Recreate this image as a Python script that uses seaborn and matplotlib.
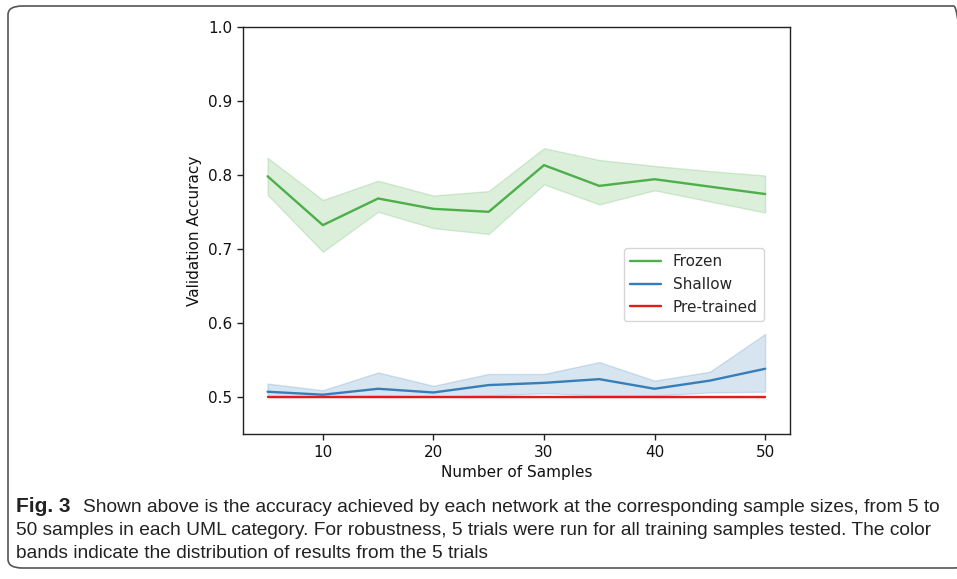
import numpy as np
import pandas as pd
import matplotlib
matplotlib.use("Agg")
import matplotlib.pyplot as plt
from matplotlib.patches import FancyBboxPatch
import seaborn as sns

# sample sizes
samples = [5, 10, 15, 20, 25, 30, 35, 40, 45, 50]

# mean accuracy, with band lower/upper edges
frozen_mean = [0.798, 0.732, 0.768, 0.754, 0.750, 0.813, 0.785, 0.794, 0.784, 0.774]
frozen_lo = [0.773, 0.696, 0.750, 0.728, 0.720, 0.787, 0.760, 0.779, 0.764, 0.749]
frozen_hi = [0.823, 0.766, 0.792, 0.772, 0.778, 0.836, 0.820, 0.812, 0.805, 0.799]

shallow_mean = [0.507, 0.503, 0.511, 0.506, 0.516, 0.519, 0.524, 0.511, 0.522, 0.538]
shallow_lo = [0.500, 0.500, 0.502, 0.500, 0.502, 0.505, 0.502, 0.502, 0.506, 0.507]
shallow_hi = [0.518, 0.509, 0.533, 0.515, 0.531, 0.531, 0.547, 0.522, 0.534, 0.585]

pretrained_mean = [0.500] * 10
pretrained_lo = [0.500] * 10
pretrained_hi = [0.500] * 10

caption_bold = "Fig. 3"
caption_lines = [
    "Shown above is the accuracy achieved by each network at the corresponding sample sizes, from 5 to",
    "50 samples in each UML category. For robustness, 5 trials were run for all training samples tested. The color",
    "bands indicate the distribution of results from the 5 trials",
]

sns.set_theme(style="ticks")
plt.rcParams['font.family'] = ['DejaVu Sans']

colors = {"Frozen": "#4daf4a", "Shallow": "#377eb8", "Pre-trained": "#e41a1c"}

rows = []
for name, m, lo, hi in [("Frozen", frozen_mean, frozen_lo, frozen_hi),
                        ("Shallow", shallow_mean, shallow_lo, shallow_hi),
                        ("Pre-trained", pretrained_mean, pretrained_lo, pretrained_hi)]:
    for s, a, b, c in zip(samples, m, lo, hi):
        rows.append({"samples": s, "acc": a, "lo": b, "hi": c, "model": name})
df = pd.DataFrame(rows)

fig = plt.figure(figsize=(9.57, 5.79), dpi=100)
ax = fig.add_axes([0.2536, 0.2499, 0.5719, 0.704])

sns.lineplot(data=df, x="samples", y="acc", hue="model", palette=colors,
             linewidth=1.7, ax=ax, errorbar=None)
for name, g in df.groupby("model", sort=False):
    ax.fill_between(g["samples"], g["lo"], g["hi"], color=colors[name], alpha=0.2, linewidth=1)

ax.set_xlim(2.75, 52.25)
ax.set_ylim(0.4495, 1.0)
ax.set_xticks([10, 20, 30, 40, 50])
ax.set_yticks([0.5, 0.6, 0.7, 0.8, 0.9, 1.0])
ax.tick_params(labelsize=11, length=4, width=1, color="#222222", labelcolor="#111111")
for sp in ax.spines.values():
    sp.set_linewidth(1)
    sp.set_color("#222222")
ax.set_xlabel("Number of Samples", fontsize=11, color="#111111")
ax.set_ylabel("Validation Accuracy", fontsize=11, color="#111111")

leg = ax.legend(loc="lower right", bbox_to_anchor=(0.966, 0.26), fontsize=11,
                frameon=True, framealpha=0.8, edgecolor="#cccccc")
for line in leg.get_lines():
    line.set_linewidth(1.7)

# border box round the figure
box = FancyBboxPatch((8 / 957, 11 / 579), 960 / 957, 562 / 579,
                     boxstyle="round,pad=0,rounding_size=0.015",
                     transform=fig.transFigure, fill=False,
                     edgecolor="#555555", linewidth=1.2, clip_on=False)
fig.patches.append(box)

cap_font = ['Liberation Sans', 'DejaVu Sans']
cap_size = 13.8
t0 = fig.text(16 / 957, 1 - 512 / 579, caption_bold, fontsize=15, fontweight="bold",
              family=cap_font, va="baseline", color="#222222")
fig.canvas.draw()
ax.annotate(caption_lines[0], xy=(1, 0), xycoords=t0, xytext=(9, 0), textcoords="offset points",
            fontsize=cap_size, family=cap_font, va="bottom", color="#222222", annotation_clip=False)
fig.text(16 / 957, 1 - 535 / 579, caption_lines[1], fontsize=cap_size, family=cap_font,
         va="baseline", color="#222222")
fig.text(16 / 957, 1 - 558 / 579, caption_lines[2], fontsize=cap_size, family=cap_font,
         va="baseline", color="#222222")

fig.savefig("out.png", dpi=100)
